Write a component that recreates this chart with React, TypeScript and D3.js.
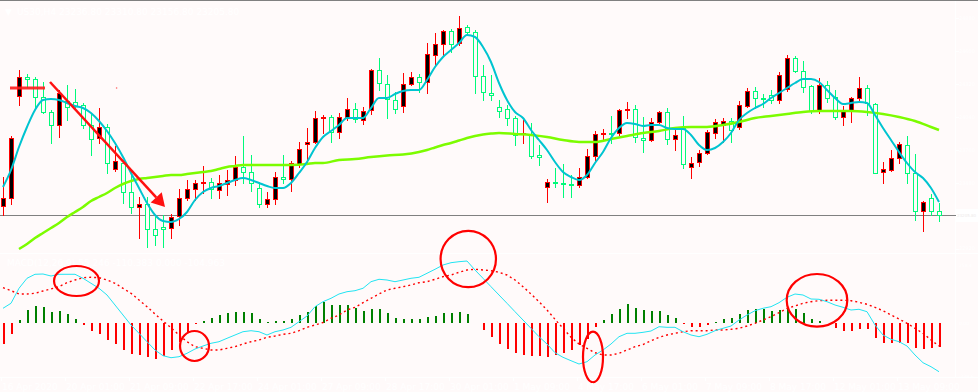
import React from 'react';
import * as d3 from 'd3';

const W = 978;
const H = 392;

// ---------- price data (US30, H4) ----------
const openP = [23282.5,23350.5,24217.5,24379,24362,24209,24081.5,23971,24175,24166.5,24141,23971,23860.5,23954,23597,23648,23401.5,23274,23299.5,23087,23104,23095.5,23197.5,23350.5,23427,23478,23486.5,23418.5,23469.5,23503.5,23614,23571.5,23435.5,23299.5,23342,23529,23512,23639.5,23809.5,23826.5,24030.5,24039,23911.5,24039,24107,24013.5,24098.5,24438.5,24319.5,24183.5,24132.5,24319.5,24379,24336.5,24566,24659.5,24770,24668,24804,24761.5,24387.5,24243,24124,24107,24030.5,23894.5,23894.5,23716,23444,23486.5,23478,23469.5,23461,23529,23707.5,23894.5,23903,23903,24098.5,24107,23860.5,23843.5,23996.5,24081.5,23852,23945.5,23614,23656.5,23733,23903,23971,24005,23954,24132.5,24260,24200.5,24226,24183.5,24277,24540.5,24430,24302.5,24090,24311,24209,24039,24098.5,24200.5,24285.5,24149.5,23571.5,23588.5,23690.5,23801,23563,23240,23350.5,23236.8];
const highP = [23529,23877.5,24438.5,24404.5,24379,24336.5,24098.5,24268.5,24311,24277,24158,24073,24115.5,23979.5,23792.5,23673.5,23588.5,23359,23359,23189,23206,23214.5,23427,23503.5,23503.5,23622.5,23520.5,23546,23588.5,23707.5,23877.5,23716,23486.5,23401.5,23571.5,23716,23665,23826.5,23945.5,24090,24056,24056,24073,24200.5,24158,24124,24447,24540.5,24396,24251.5,24413,24421.5,24404.5,24668,24753,24778.5,24787,24897.5,24821,24778.5,24481,24396,24183.5,24141,24047.5,24013.5,23988,23801,23512,23605.5,23639.5,23546,23605.5,23767,23920,23937,24047.5,24107,24166.5,24141,24039,24030.5,24090,24115.5,23954,24047.5,23699,23758.5,23928.5,24022,24030.5,24030.5,24175,24285.5,24294,24234.5,24268.5,24421.5,24566,24557.5,24515,24311,24370.5,24345,24268.5,24132.5,24209,24379,24311,24158,23656.5,23758.5,23826.5,23877.5,23724.5,23325,23384.5,23310.8];
const lowP = [23206,23299.5,24141,24294,24115.5,24073,23818,23869,24013.5,24098.5,23945.5,23716,23818,23563,23580,23308,23223,23010.5,22934,22951,22934,23010.5,23121,23333.5,23333.5,23393,23350.5,23350.5,23376,23461,23478,23410,23274,23274,23299.5,23478,23410,23614,23648,23818,23903,23826.5,23860.5,24013.5,23996.5,23979.5,24064.5,24268.5,24030.5,24073,24081.5,24311,24251.5,24243,24481,24566,24591.5,24651,24736,24243,24183.5,24183.5,24039,23971,23801,23818,23690.5,23631,23316.5,23444,23359,23359,23444,23520.5,23673.5,23852,23818,23886,24030.5,23826.5,23741.5,23835,23988,23809.5,23758.5,23605.5,23520.5,23622.5,23724.5,23860.5,23826.5,23826.5,23937,24124,24115.5,24124,24158,24158,24260,24421.5,24251.5,24073,24073,24166.5,24022,23971,23996.5,24183.5,24056,23563,23478,23580,23648,23478,23163.5,23070,23206,23156.8];
const closeP = [23350.5,23860.5,24379,24362,24209,24081.5,23971,24243,24124,24132.5,23971,23852,23954,23648,23665,23401.5,23274,23299.5,23087,23036,23087,23189,23350.5,23427,23478,23486.5,23427,23478,23503.5,23614,23571.5,23478,23299.5,23342,23529,23512,23648,23767,23826.5,24030.5,24039,23911.5,24039,24107,24022,24090,24438.5,24328,24192,24107,24319.5,24379,24336.5,24574.5,24659.5,24770,24659.5,24795.5,24761.5,24387.5,24251.5,24226,24090,24030.5,23886,23903,23707.5,23699,23486.5,23478,23469.5,23461,23529,23707.5,23894.5,23903,23894.5,24098.5,24107,23869,23843.5,23996.5,24081.5,23852,23886,23639.5,23648,23733,23911.5,23996.5,24005,23928.5,24141,24260,24200.5,24192,24183.5,24396,24540.5,24430,24294,24090,24311,24200.5,24039,24090,24200.5,24285.5,24158,23563,23597,23690.5,23809.5,23563,23240,23316.5,23240,23205.8];

// fast moving average (cyan)
const fastMA = [23444,23588.5,23784,23954,24098.5,24183.5,24192,24183.5,24158,24132.5,24115.5,24073,24005,23920,23818,23699,23563,23435.5,23308,23206,23155,23146.5,23172,23231.5,23333.5,23401.5,23435.5,23452.5,23478,23503.5,23520.5,23503.5,23478,23452.5,23435.5,23435.5,23478,23563,23656.5,23775.5,23869,23920,23971,24030.5,24030.5,24030.5,24115.5,24200.5,24200.5,24234.5,24260,24268.5,24268.5,24353.5,24464,24549,24608.5,24668,24736,24719,24634,24506.5,24328,24183.5,24081.5,24030.5,23928.5,23843.5,23758.5,23656.5,23571.5,23529,23503.5,23546,23648,23741.5,23860.5,23945.5,23988,23979.5,23962.5,23971,23971,23945.5,23937,23937,23886,23801,23758.5,23775.5,23826.5,23903,24013.5,24073,24115.5,24149.5,24200.5,24243,24285.5,24328,24362,24362,24336.5,24268.5,24200.5,24149.5,24158,24166.5,24158,24056,23945.5,23843.5,23741.5,23648,23571.5,23520.5,23435.5,23316.5];

// slow moving average (lime), read at these candle indices
const slowIdx = [2,3,4,5,6,7,8,9,10,11,12,13,14,15,16,17,18,19,20,21,22,23,24,25,26,27,28,29,30,31,36,38,39,40,42,44,46,48,50,52,53,54,55,56,57,58,59,60,61,62,64,66,68,70,72,74,76,78,80,82,84,86,88,90,92,94,96,98,100,102,104,106,108,110,112,114,116,117];
const slowMA = [22917,22959.5,23010.5,23053,23095.5,23138,23189,23231.5,23274,23325,23359,23393,23435.5,23469.5,23495,23512,23520.5,23529,23537.5,23546,23546,23554.5,23563,23571.5,23580,23597,23614,23622.5,23631,23631,23631,23639.5,23648,23648,23673.5,23682,23699,23712,23720,23741.5,23758.5,23780,23801,23818,23839,23860.5,23877.5,23890,23898,23903,23894.5,23886,23869,23843.5,23826.5,23826.5,23852,23877.5,23903,23920,23945.5,23954,23954,23971,23996.5,24030.5,24047.5,24064.5,24081.5,24090,24090,24090,24081.5,24064.5,24039,24005,23954,23928.5];

// ---------- MACD(12,26,9) ----------
const macdMain = [66.2,88.7,156.2,201.2,219.2,220.5,211.5,219.2,219.2,219.2,201.2,178.7,156.2,126,81,36,-9,-46.4,-84.2,-121.5,-147.2,-156.2,-151.7,-136.4,-117,-103.5,-91.4,-84.2,-68.9,-54,-39.2,-34.7,-39.2,-54,-39.2,-31.5,-19.4,5.9,31.5,73.4,95.9,111.2,130.5,140.9,145.4,156.2,185.9,196.7,193.5,185.9,193.5,201.2,205.7,223.7,241.7,261,271.4,275.9,279,238.5,201.2,163.4,126,88.7,50.9,13.5,-23.9,-61.7,-94.5,-133.7,-154.4,-169.7,-184.5,-174.2,-144,-121.5,-94.5,-61.7,-46.4,-46.4,-42,-36,-16.7,-19.4,-19.4,-39.2,-54,-61.7,-50.9,-34.7,-23.9,-13.5,13.5,36,55.4,66.2,73.4,91.4,115.7,130.5,126,108,106.7,95.9,81,70.7,58.5,61.7,50.9,-9,-54,-73.4,-84.2,-103.5,-144,-178.7,-196.7,-219.2];
const macdSignal = [158.9,145.4,130.5,130.5,133.7,144,153,163.4,181.4,193.5,203.9,205.7,203.9,193.5,178.7,156.2,133.7,103.5,73.4,40.5,9,-21.2,-54,-84.2,-106.7,-113.9,-121.5,-121.5,-113.9,-106.7,-94.5,-84.2,-76.5,-64.4,-58.5,-50.9,-46.4,-34.7,-19.4,-9,2.3,21.2,36,58.5,70.7,91.4,111.2,130.5,148.5,156.2,163.4,171,181.4,185.9,196.7,208.4,216,228.2,238.5,241.7,238.5,235.4,228.2,216,193.5,163.4,130.5,95.9,58.5,16.7,-23.9,-64.4,-94.5,-113.9,-133.7,-144,-144,-136.4,-121.5,-106.7,-96.8,-79.7,-64.4,-54,-46.4,-39.2,-34.7,-34.7,-34.7,-31.5,-31.5,-28.4,-23.9,-13.5,-1.4,13.5,28.4,46.4,66.2,76.5,88.7,95.9,100.4,102.2,102.2,102.2,100.4,93.2,84.2,70.7,55.4,36,18,-1.4,-23.9,-46.4,-76.5,-103.5];
const macdHist = [-93.2,-50.9,12.2,57.2,75.2,72,49.5,52.7,39.2,16.7,-10.4,-36,-50.9,-75.2,-95.9,-120.2,-138.2,-145.4,-153,-160.7,-149.9,-120.2,-85.5,-40.5,-4.5,9,22.5,34.7,45,49.5,49.5,45,18,4.5,9,9,19.4,34.7,49.5,75.2,92.3,82.4,79.7,79.7,67.5,52.7,64.4,61.7,46.4,23.9,19.4,19.4,16.7,25.7,32.9,46.4,45,48.2,39.2,1.4,-31.5,-63,-95.9,-118.4,-136.4,-145.4,-148.5,-148.5,-153,-145.4,-133.7,-122.9,-100.4,-73.4,-16.7,13.5,39.2,64.4,84.2,68.9,58.5,52.7,52.7,34.7,21.2,-3.2,-18,-18,-10.4,4.5,16.7,21.2,39.2,57.2,61.7,64.4,54,58.5,72,64.4,46.4,16.7,7.7,1.4,-22.5,-36,-36,-28.4,-28.4,-66.2,-91.4,-91.4,-88.7,-88.7,-113.9,-115.7,-111.2,-106.7];

// ---------- axes ----------
const priceTicks = [24880, 24600, 24320, 24040, 23760, 23480, 22920];
const lastPrice = 23205.8;
const macdTicks = [258.4, 0, -239.6];
const dateIdx = [0, 8, 16, 24, 32, 40, 48, 56, 64, 72, 80, 88, 96, 104, 112];
const dateLabels = ['16 Apr 2020', '20 Apr 01:00', '21 Apr 09:00', '22 Apr 17:00', '24 Apr 01:00', '27 Apr 09:00', '28 Apr 17:00', '30 Apr 01:00', '1 May 09:00', '4 May 17:00', '6 May 01:00', '7 May 09:00', '8 May 17:00', '12 May 01:00', '13 May 09:00'];
const titleText = 'US30,H4  23236.80 23310.80 23156.80 23205.80';
const macdTitle = 'MACD(12,26,9) 55.246 -110.383 0.000 -104.963';

// ---------- annotations (in data units) ----------
const arrowFrom = { i: 5.875, p: 24336.5 };
const arrowTo = { i: 20.25, p: 23274 };
const markerLine = { i0: 0.875, i1: 5.25, p: 24285.5 };
const markerDot = { i: 14.2, p: 24285.5 };
const ellipses = [
  { i: 9.19, v: 189, rx: 22.5, ry: 15 },
  { i: 23.94, v: -103.5, rx: 14.5, ry: 15 },
  { i: 58.16, v: 288, rx: 27.7, ry: 28.2 },
  { i: 73.75, v: -153, rx: 10, ry: 25.3 },
  { i: 101.75, v: 102.2, rx: 30.3, ry: 26.3 },
];

const BG = '#fffafa';
const BULL_BODY = '#000000';
const BULL_LINE = '#ff0000';
const BEAR_LINE = '#00fa7a';
const FONT = 'DejaVu Sans, sans-serif';

export default function App() {
  const n = openP.length;
  const x = d3.scaleLinear().domain([0, n - 1]).range([3, 3 + 8 * (n - 1)]);
  const y = d3.scaleLinear().domain([22908.5, 25033.5]).range([250, 0]);
  const yM = d3.scaleLinear().domain([-239.57, 258.36]).range([323 + 239.57 / 4.5, 323 - 258.36 / 4.5]);

  const fastLine = d3.line<number>().x((_, i) => x(i)).y((d) => y(d)).curve(d3.curveMonotoneX)(fastMA) || '';
  const slowLine = d3.line<number>().x((_, k) => x(slowIdx[k])).y((d) => y(d)).curve(d3.curveMonotoneX)(slowMA) || '';
  const macdLine = d3.line<number>().x((_, i) => x(i)).y((d) => yM(d))(macdMain) || '';
  const sigLine = d3.line<number>().x((_, i) => x(i)).y((d) => yM(d))(macdSignal) || '';

  // arrow geometry
  const ax0 = x(arrowFrom.i), ay0 = y(arrowFrom.p);
  const ax1 = x(arrowTo.i), ay1 = y(arrowTo.p);
  const len = Math.hypot(ax1 - ax0, ay1 - ay0);
  const ux = (ax1 - ax0) / len, uy = (ay1 - ay0) / len;
  const headL = 13, headW = 7.5;
  const bx = ax1 - ux * headL, by = ay1 - uy * headL;
  const head = `M${ax1},${ay1} L${bx - uy * headW},${by + ux * headW} L${bx + uy * headW},${by - ux * headW} Z`;

  const zeroY = Math.round(yM(0));
  const priceLineY = Math.round(y(lastPrice)) + 0.5;

  return (
    <svg width={W} height={H} style={{ position: 'absolute', left: 0, top: 0, display: 'block' }}>
      <rect x={0} y={0} width={W} height={H} fill={BG} />
      {/* separators */}
      <line x1={0} x2={W} y1={0.5} y2={0.5} stroke="#808080" strokeWidth={1} />
      <line x1={0} x2={W} y1={253.5} y2={253.5} stroke="#ffffff" strokeWidth={1} />
      <line x1={0} x2={W} y1={377.5} y2={377.5} stroke="#ffffff" strokeWidth={1} />
      <line x1={955.5} x2={955.5} y1={1} y2={378} stroke="#ffffff" strokeWidth={1} />

      {/* titles */}
      <text x={5} y={15} fontFamily={FONT} fontSize={9} fill="#ffffff">▼</text>
      <text x={17} y={15} fontFamily={FONT} fontSize={9} fill="#ffffff">{titleText}</text>
      <text x={7} y={266} fontFamily={FONT} fontSize={9} fill="#ffffff">{macdTitle}</text>

      {/* current price line */}
      <line x1={0} x2={956} y1={priceLineY} y2={priceLineY} stroke="#808080" strokeWidth={1} />

      {/* candles */}
      {openP.map((o, i) => {
        const c = closeP[i];
        const bull = c >= o;
        const cx = Math.round(x(i));
        const top = Math.round(y(Math.max(o, c)));
        const bot = Math.round(y(Math.min(o, c)));
        const col = bull ? BULL_LINE : BEAR_LINE;
        return (
          <g key={'c' + i}>
            <line x1={cx + 0.5} x2={cx + 0.5} y1={Math.round(y(highP[i]))} y2={Math.round(y(lowP[i])) + 1} stroke={col} strokeWidth={1} />
            <rect x={cx - 1.5} y={top + 0.5} width={4} height={Math.max(bot - top, 1)} fill={bull ? BULL_BODY : BG} stroke={col} strokeWidth={1} />
          </g>
        );
      })}

      {/* moving averages */}
      <path d={slowLine} fill="none" stroke="#7cfc00" strokeWidth={2.5} />
      <path d={fastLine} fill="none" stroke="#00c4d0" strokeWidth={2} />

      {/* red marker + arrow */}
      <line x1={x(markerLine.i0)} x2={x(markerLine.i1)} y1={y(markerLine.p)} y2={y(markerLine.p)} stroke="#ff1a1a" strokeWidth={3} strokeOpacity={0.9} />
      <circle cx={x(markerDot.i)} cy={y(markerDot.p)} r={0.8} fill="#ff6060" />
      <line x1={ax0} y1={ay0} x2={bx} y2={by} stroke="#ff1010" strokeWidth={2.5} />
      <path d={head} fill="#ff1010" />

      {/* right price axis */}
      {priceTicks.map((p) => (
        <g key={'pt' + p}>
          <line x1={956} x2={959} y1={Math.round(y(p)) + 0.5} y2={Math.round(y(p)) + 0.5} stroke="#ffffff" />
          <text x={959} y={y(p)} dy="0.35em" fontFamily={FONT} fontSize={5} fill="#ffffff">{p.toFixed(0)}</text>
        </g>
      ))}
      <rect x={956} y={priceLineY - 6.5} width={22} height={13} fill="#ffffff" />
      <text x={957} y={priceLineY} dy="0.35em" fontFamily={FONT} fontSize={4} fill="#eeeaea">{lastPrice.toFixed(2)}</text>

      {/* MACD histogram */}
      {macdHist.map((v, i) => {
        const cx = Math.round(x(i));
        const yv = Math.round(yM(v));
        const t = Math.min(yv, zeroY);
        const h = Math.abs(yv - zeroY);
        if (h < 0.5) return null;
        return <rect key={'h' + i} x={cx} y={t} width={2} height={h} fill={v >= 0 ? '#008000' : '#ff0000'} />;
      })}
      <path d={sigLine} fill="none" stroke="#ff0000" strokeWidth={1.4} strokeDasharray="2,3" />
      <path d={macdLine} fill="none" stroke="#22e4f2" strokeWidth={1} />

      {/* MACD axis */}
      {macdTicks.map((v) => (
        <text key={'mt' + v} x={959} y={yM(v)} dy="0.35em" fontFamily={FONT} fontSize={4.5} fill="#ffffff">{v === 0 ? '0.00' : v.toFixed(1)}</text>
      ))}

      {/* annotation ellipses */}
      {ellipses.map((e, k) => (
        <ellipse key={'e' + k} cx={x(e.i)} cy={yM(e.v)} rx={e.rx} ry={e.ry} fill="none" stroke="#ff0000" strokeWidth={2.2} />
      ))}

      {/* date axis */}
      {dateIdx.map((idx, k) => (
        <g key={'d' + idx}>
          <line x1={Math.round(x(idx)) - 1.5} x2={Math.round(x(idx)) - 1.5} y1={378} y2={381} stroke="#ffffff" />
          <text x={Math.round(x(idx)) - 1} y={390} fontFamily={FONT} fontSize={9} fill="#ffffff">{dateLabels[k]}</text>
        </g>
      ))}
    </svg>
  );
}
